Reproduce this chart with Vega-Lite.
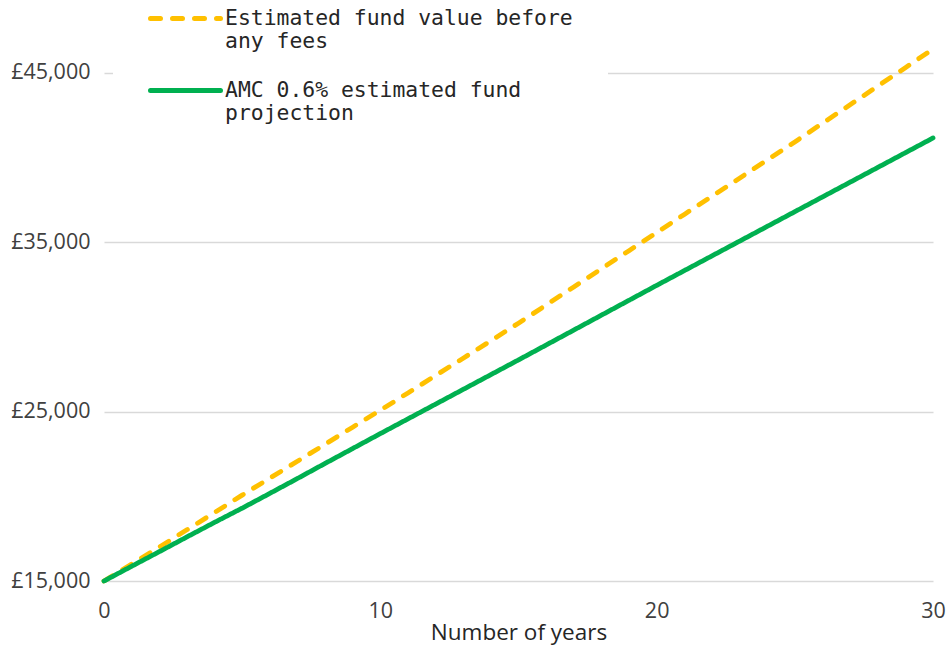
{
  "$schema": "https://vega.github.io/schema/vega-lite/v6.json",
  "width": 829,
  "height": 576,
  "autosize": {"type": "none"},
  "padding": {"left": 104, "top": 5, "right": 16, "bottom": 67},
  "background": "white",
  "config": {"view": {"stroke": null}, "font": "Open Sans"},
  "data": {
    "values": [
      {"year": 0, "series": "Estimated fund value before any fees", "value": 15000},
      {"year": 1, "series": "Estimated fund value before any fees", "value": 16000},
      {"year": 2, "series": "Estimated fund value before any fees", "value": 17000},
      {"year": 3, "series": "Estimated fund value before any fees", "value": 18020},
      {"year": 4, "series": "Estimated fund value before any fees", "value": 19040},
      {"year": 5, "series": "Estimated fund value before any fees", "value": 20070},
      {"year": 6, "series": "Estimated fund value before any fees", "value": 21070},
      {"year": 7, "series": "Estimated fund value before any fees", "value": 22070},
      {"year": 8, "series": "Estimated fund value before any fees", "value": 23070},
      {"year": 9, "series": "Estimated fund value before any fees", "value": 24080},
      {"year": 10, "series": "Estimated fund value before any fees", "value": 25080},
      {"year": 11, "series": "Estimated fund value before any fees", "value": 26100},
      {"year": 12, "series": "Estimated fund value before any fees", "value": 27130},
      {"year": 13, "series": "Estimated fund value before any fees", "value": 28150},
      {"year": 14, "series": "Estimated fund value before any fees", "value": 29180},
      {"year": 15, "series": "Estimated fund value before any fees", "value": 30220},
      {"year": 16, "series": "Estimated fund value before any fees", "value": 31290},
      {"year": 17, "series": "Estimated fund value before any fees", "value": 32360},
      {"year": 18, "series": "Estimated fund value before any fees", "value": 33430},
      {"year": 19, "series": "Estimated fund value before any fees", "value": 34500},
      {"year": 20, "series": "Estimated fund value before any fees", "value": 35570},
      {"year": 21, "series": "Estimated fund value before any fees", "value": 36640},
      {"year": 22, "series": "Estimated fund value before any fees", "value": 37710},
      {"year": 23, "series": "Estimated fund value before any fees", "value": 38780},
      {"year": 24, "series": "Estimated fund value before any fees", "value": 39850},
      {"year": 25, "series": "Estimated fund value before any fees", "value": 40920},
      {"year": 26, "series": "Estimated fund value before any fees", "value": 42020},
      {"year": 27, "series": "Estimated fund value before any fees", "value": 43110},
      {"year": 28, "series": "Estimated fund value before any fees", "value": 44210},
      {"year": 29, "series": "Estimated fund value before any fees", "value": 45300},
      {"year": 30, "series": "Estimated fund value before any fees", "value": 46400},
      {"year": 0, "series": "AMC 0.6% estimated fund projection", "value": 15000},
      {"year": 1, "series": "AMC 0.6% estimated fund projection", "value": 15870},
      {"year": 2, "series": "AMC 0.6% estimated fund projection", "value": 16730},
      {"year": 3, "series": "AMC 0.6% estimated fund projection", "value": 17600},
      {"year": 4, "series": "AMC 0.6% estimated fund projection", "value": 18460},
      {"year": 5, "series": "AMC 0.6% estimated fund projection", "value": 19300},
      {"year": 6, "series": "AMC 0.6% estimated fund projection", "value": 20170},
      {"year": 7, "series": "AMC 0.6% estimated fund projection", "value": 21050},
      {"year": 8, "series": "AMC 0.6% estimated fund projection", "value": 21940},
      {"year": 9, "series": "AMC 0.6% estimated fund projection", "value": 22820},
      {"year": 10, "series": "AMC 0.6% estimated fund projection", "value": 23700},
      {"year": 11, "series": "AMC 0.6% estimated fund projection", "value": 24570},
      {"year": 12, "series": "AMC 0.6% estimated fund projection", "value": 25440},
      {"year": 13, "series": "AMC 0.6% estimated fund projection", "value": 26310},
      {"year": 14, "series": "AMC 0.6% estimated fund projection", "value": 27180},
      {"year": 15, "series": "AMC 0.6% estimated fund projection", "value": 28050},
      {"year": 16, "series": "AMC 0.6% estimated fund projection", "value": 28930},
      {"year": 17, "series": "AMC 0.6% estimated fund projection", "value": 29810},
      {"year": 18, "series": "AMC 0.6% estimated fund projection", "value": 30690},
      {"year": 19, "series": "AMC 0.6% estimated fund projection", "value": 31570},
      {"year": 20, "series": "AMC 0.6% estimated fund projection", "value": 32450},
      {"year": 21, "series": "AMC 0.6% estimated fund projection", "value": 33320},
      {"year": 22, "series": "AMC 0.6% estimated fund projection", "value": 34190},
      {"year": 23, "series": "AMC 0.6% estimated fund projection", "value": 35060},
      {"year": 24, "series": "AMC 0.6% estimated fund projection", "value": 35930},
      {"year": 25, "series": "AMC 0.6% estimated fund projection", "value": 36800},
      {"year": 26, "series": "AMC 0.6% estimated fund projection", "value": 37670},
      {"year": 27, "series": "AMC 0.6% estimated fund projection", "value": 38540},
      {"year": 28, "series": "AMC 0.6% estimated fund projection", "value": 39410},
      {"year": 29, "series": "AMC 0.6% estimated fund projection", "value": 40280},
      {"year": 30, "series": "AMC 0.6% estimated fund projection", "value": 41150}
    ]
  },
  "mark": {"type": "line", "strokeWidth": 4.8, "strokeCap": "round", "strokeJoin": "round"},
  "encoding": {
    "x": {
      "field": "year",
      "type": "quantitative",
      "scale": {"domain": [0, 30], "nice": false, "zero": false},
      "axis": {
        "values": [0, 10, 20, 30],
        "title": "Number of years",
        "grid": false,
        "domain": false,
        "ticks": false,
        "labelFlush": false,
        "labelFont": "Open Sans",
        "labelFontSize": 21.5,
        "labelColor": "#404040",
        "labelPadding": 19,
        "titleFont": "Open Sans",
        "titleFontSize": 22.5,
        "titleFontWeight": "normal",
        "titleColor": "#262626",
        "titlePadding": 0
      }
    },
    "y": {
      "field": "value",
      "type": "quantitative",
      "scale": {"domain": [15000, 49000], "nice": false, "zero": false},
      "axis": {
        "values": [15000, 25000, 35000, 45000],
        "labelExpr": "'£' + format(datum.value, ',')",
        "title": null,
        "domain": false,
        "ticks": false,
        "grid": true,
        "gridColor": "#d9d9d9",
        "gridWidth": 1.3,
        "labelFont": "Open Sans",
        "labelFontSize": 21.5,
        "labelColor": "#404040",
        "labelPadding": 14
      }
    },
    "color": {
      "field": "series",
      "type": "nominal",
      "scale": {
        "domain": ["Estimated fund value before any fees", "AMC 0.6% estimated fund projection"],
        "range": ["#FFC000", "#00B050"]
      },
      "legend": {
        "title": null,
        "orient": "none",
        "legendX": 9,
        "legendY": -59,
        "padding": 35,
        "fillColor": "white",
        "symbolType": "stroke",
        "symbolSize": 4900,
        "symbolStrokeWidth": 5,
        "labelFont": "DejaVu Sans Mono",
        "labelFontSize": 21.4,
        "labelColor": "#262626",
        "labelLimit": 500,
        "labelOffset": 2,
        "labelLineHeight": 23,
        "rowPadding": 0,
        "labelExpr": "datum.label == 'Estimated fund value before any fees' ? ['Estimated fund value before', 'any fees'] : ['AMC 0.6% estimated fund', 'projection']",
        "encode": {"symbols": {"update": {"strokeCap": {"value": "round"}}}}
      }
    },
    "strokeDash": {
      "field": "series",
      "type": "nominal",
      "scale": {
        "domain": ["Estimated fund value before any fees", "AMC 0.6% estimated fund projection"],
        "range": [[10, 12], [1, 0]]
      },
      "legend": null
    }
  }
}
